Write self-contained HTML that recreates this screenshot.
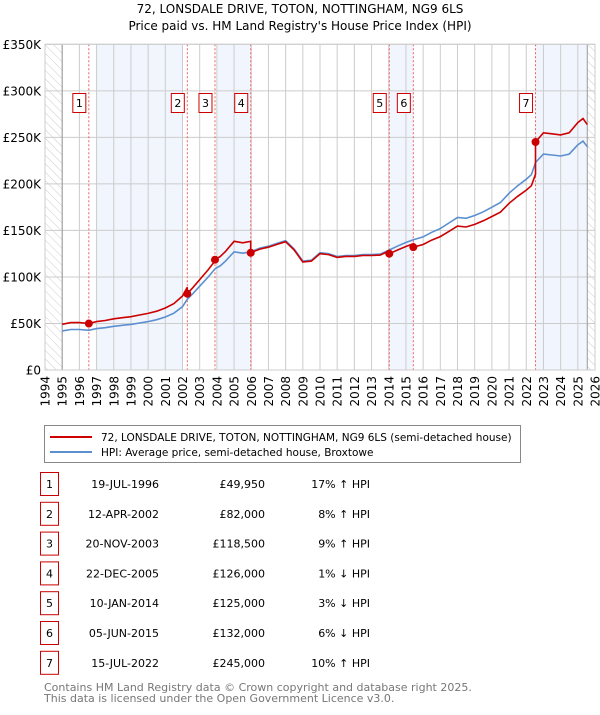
<!DOCTYPE html>
<html><head><meta charset="utf-8"><style>
body{margin:0;background:#fff;}
svg text{font-family:"DejaVu Sans","Liberation Sans",sans-serif;}
</style></head><body>
<svg id="c" width="600" height="710" viewBox="0 0 600 710" xmlns="http://www.w3.org/2000/svg">
<defs><pattern id="hatch" width="6" height="6" patternUnits="userSpaceOnUse" patternTransform="rotate(-45)"><line x1="0" y1="0" x2="0" y2="6" stroke="#ccc" stroke-width="1"/></pattern></defs>
<text x="300" y="13" text-anchor="middle" font-size="12">72, LONSDALE DRIVE, TOTON, NOTTINGHAM, NG9 6LS</text>
<text x="300" y="30" text-anchor="middle" font-size="12">Price paid vs. HM Land Registry's House Price Index (HPI)</text>
<g id="plot"></g>
<g>
<rect x="44.5" y="425.5" width="476" height="37" fill="#fff" stroke="#888"/>
<line x1="50" y1="437" x2="92" y2="437" stroke="#cc0000" stroke-width="2"/>
<text x="101" y="441" font-size="10.5">72, LONSDALE DRIVE, TOTON, NOTTINGHAM, NG9 6LS (semi-detached house)</text>
<line x1="50" y1="452" x2="92" y2="452" stroke="#5b8fd0" stroke-width="2"/>
<text x="101" y="456" font-size="10.5">HPI: Average price, semi-detached house, Broxtowe</text>
</g>
<g id="table"></g>
<text x="44" y="691" font-size="11" fill="#777">Contains HM Land Registry data © Crown copyright and database right 2025.</text>
<text x="44" y="702" font-size="11" fill="#777">This data is licensed under the Open Government Licence v3.0.</text>
</svg>
<script>
const hpiYears=[1995,1995.5,1996,1996.55,1997,1997.5,1998,1998.5,1999,1999.5,2000,2000.5,2001,2001.5,2002,2002.28,2002.6,2003,2003.5,2003.9,2004.2,2004.5,2005,2005.5,2005.97,2006.5,2007,2007.5,2008,2008.5,2009,2009.5,2010,2010.5,2011,2011.5,2012,2012.5,2013,2013.5,2014.03,2014.5,2015,2015.43,2016,2016.5,2017,2017.5,2018,2018.5,2019,2019.5,2020,2020.5,2021,2021.5,2022,2022.3,2022.54,2023,2023.5,2024,2024.5,2025,2025.3,2025.55];
const hpiValues=[42000,43500,43500,42700,44500,45500,47000,48000,49000,50500,52000,54000,57000,61000,68000,76000,82000,90000,100000,109000,112000,117000,127000,125500,127000,131000,133000,136000,139000,130000,117000,118000,126000,125000,122000,123000,123000,124000,124000,124500,129000,133000,137000,140000,143000,148000,152000,158000,164000,163000,166000,170000,175000,180000,190000,198000,205000,210000,223000,232000,231000,230000,232000,242000,246000,240000];
const saleYears=[1996.55,2002.28,2003.89,2005.97,2014.03,2015.43,2022.54];
const salePrices=[49950,82000,118500,126000,125000,132000,245000];
const saleLabels=["1","2","3","4","5","6","7"];
const saleDates=["19-JUL-1996","12-APR-2002","20-NOV-2003","22-DEC-2005","10-JAN-2014","05-JUN-2015","15-JUL-2022"];
const salePriceText=["£49,950","£82,000","£118,500","£126,000","£125,000","£132,000","£245,000"];
const saleHpiText=["17% ↑ HPI","8% ↑ HPI","9% ↑ HPI","1% ↓ HPI","3% ↓ HPI","6% ↓ HPI","10% ↑ HPI"];
const yTicks=[0,50000,100000,150000,200000,250000,300000,350000];
const yTickLabels=["£0","£50K","£100K","£150K","£200K","£250K","£300K","£350K"];
const bands=[[1997,2002],[2004,2006],[2014.03,2015.43],[2022.54,2025.55]];

const X0=45,X1=595,Y0=370,Y1=44.3;
const xs=y=>X0+(y-1994)/(2026-1994)*(X1-X0);
const ys=v=>Y0-v/350000*(Y0-Y1);
const NS="http://www.w3.org/2000/svg";
function mk(tag,attrs,parent,txt){const e=document.createElementNS(NS,tag);for(const k in attrs)e.setAttribute(k,attrs[k]);if(txt!==undefined)e.textContent=txt;parent.appendChild(e);return e;}
const plot=document.getElementById('plot');
mk('rect',{x:X0,y:Y1,width:X1-X0,height:Y0-Y1,fill:'#fff'},plot);
bands.forEach(b=>{const r=mk('rect',{x:xs(b[0]),y:Y1,width:xs(b[1])-xs(b[0]),height:Y0-Y1,fill:'#eef3fc',opacity:0.8},plot);

});
let h=mk('rect',{x:X0,y:Y1,width:xs(1995)-X0,height:Y0-Y1,fill:'url(#hatch)'},plot);


h=mk('rect',{x:xs(2025.55),y:Y1,width:X1-xs(2025.55),height:Y0-Y1,fill:'url(#hatch)'},plot);


for(let yr=1994;yr<=2026;yr++){
 mk('line',{x1:xs(yr),y1:Y1,x2:xs(yr),y2:Y0,stroke:'#ccc','stroke-width':1},plot);
 const t=mk('text',{x:0,y:0,'font-size':12,'text-anchor':'end',transform:`translate(${xs(yr)+4.5},${Y0+6}) rotate(-90)`},plot,String(yr));
 
 
}
yTicks.forEach((v,i)=>{
 mk('line',{x1:X0,y1:ys(v),x2:X1,y2:ys(v),stroke:'#ccc','stroke-width':1},plot);
 const t=mk('text',{x:X0-4,y:ys(v)+4.5,'font-size':12,'text-anchor':'end'},plot,yTickLabels[i]);
 
 
});
mk('line',{x1:xs(1995),y1:Y1,x2:xs(1995),y2:Y0,stroke:'#999'},plot);
mk('line',{x1:xs(2025.55),y1:Y1,x2:xs(2025.55),y2:Y0,stroke:'#999'},plot);
// sale lines
saleYears.forEach((s,i)=>{
 const l=mk('line',{x1:xs(s),y1:Y1,x2:xs(s),y2:Y0,stroke:'#f06060','stroke-width':1,'stroke-dasharray':'2,2'},plot);
 
 
});
function interp(yr){for(let i=0;i<hpiYears.length-1;i++){if(yr<=hpiYears[i+1]){const f=(yr-hpiYears[i])/(hpiYears[i+1]-hpiYears[i]);return hpiValues[i]+f*(hpiValues[i+1]-hpiValues[i]);}}return hpiValues[hpiValues.length-1];}
// HPI line
let d=hpiYears.map((y,i)=>(i?'L':'M')+xs(y).toFixed(1)+','+ys(hpiValues[i]).toFixed(1)).join(' ');
let p=mk('path',{d:d,fill:'none',stroke:'#5b8fd0','stroke-width':1.6},plot);


// price-paid line: HPI indexed from most recent sale
function seg(yr){let k=0;for(let j=0;j<saleYears.length;j++)if(yr>=saleYears[j])k=j;return k;}
let pts=[];
hpiYears.forEach((y,i)=>{const k=seg(y);pts.push([y,hpiValues[i]*salePrices[k]/interp(saleYears[k])]);});
saleYears.forEach((s,k)=>{if(k>0)pts.push([s-0.001,interp(s)*salePrices[k-1]/interp(saleYears[k-1])]);pts.push([s,salePrices[k]]);});
pts.sort((a,b)=>a[0]-b[0]);
d=pts.map((q,i)=>(i?'L':'M')+xs(q[0]).toFixed(1)+','+ys(q[1]).toFixed(1)).join(' ');
p=mk('path',{d:d,fill:'none',stroke:'#cc0000','stroke-width':1.6},plot);


saleYears.forEach((s,i)=>{
 const c=mk('circle',{cx:xs(s),cy:ys(salePrices[i]),r:4,fill:'#cc0000'},plot);
 
 
 const g=mk('g',{},plot);
 
 
 mk('rect',{x:xs(s)-16,y:93.5,width:13,height:19,fill:'#fff',stroke:'#cc0000'},g);
 mk('text',{x:xs(s)-9.5,y:107,'font-size':11,'text-anchor':'middle'},g,saleLabels[i]);
});
mk('rect',{x:X0,y:Y1,width:X1-X0,height:Y0-Y1,fill:'none',stroke:'#ccc'},plot);
// table
const tb=document.getElementById('table');
saleLabels.forEach((lab,i)=>{
 const cy=484+i*29.8;
 const g=mk('g',{},tb);
 
 
 mk('rect',{x:40.5,y:cy-11.5,width:18,height:23,fill:'#fff',stroke:'#cc0000'},g);
 mk('text',{x:49.5,y:cy+4,'font-size':11,'text-anchor':'middle'},g,lab);
 mk('text',{x:159,y:cy+4,'font-size':11,'text-anchor':'end'},g,saleDates[i]);
 mk('text',{x:265,y:cy+4,'font-size':11,'text-anchor':'end'},g,salePriceText[i]);
 mk('text',{x:370,y:cy+4,'font-size':11,'text-anchor':'end'},g,saleHpiText[i]);
});
</script>
</body></html>
